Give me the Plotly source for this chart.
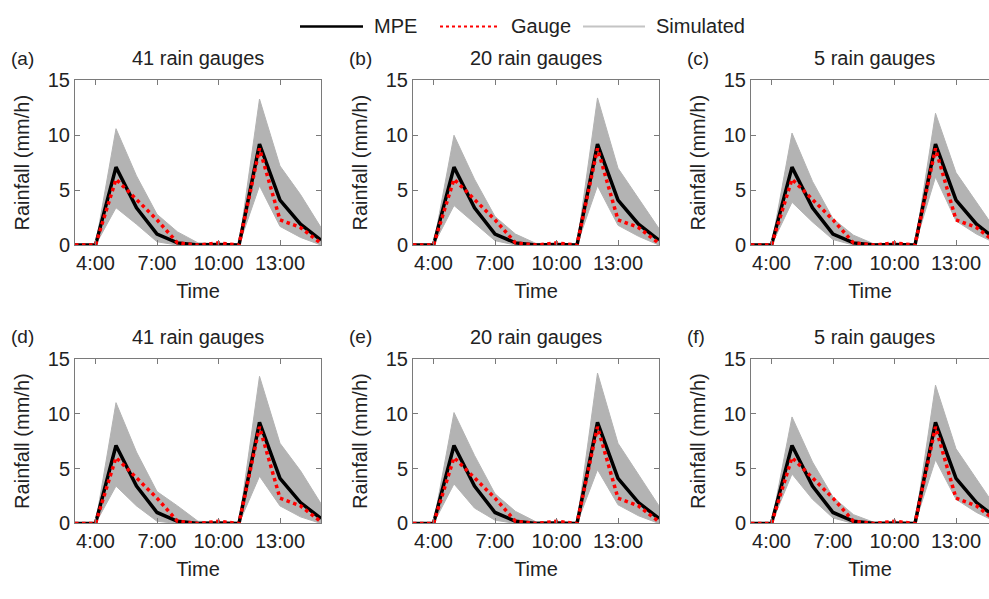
import plotly.graph_objects as go

# ---------------- data ----------------
hours = [3, 4, 5, 6, 7, 8, 9, 10, 11, 12, 13, 14, 15]
tick_vals = [4, 7, 10, 13]
tick_text = ["4:00", "7:00", "10:00", "13:00"]
y_ticks = [0, 5, 10, 15]

mpe = [0, 0, 7.1, 3.4, 1.0, 0.2, 0, 0.05, 0, 9.2, 4.1, 1.9, 0.45]
gauge = [0, 0, 6.0, 4.1, 2.3, 0.2, 0, 0.2, 0, 8.8, 2.3, 1.6, 0.15]

panel_labels = ["(a)", "(b)", "(c)", "(d)", "(e)", "(f)"]
panel_titles = ["41 rain gauges", "20 rain gauges", "5 rain gauges",
                "41 rain gauges", "20 rain gauges", "5 rain gauges"]

sim_upper_a = [0, 0, 10.6, 6.3, 2.8, 1.2, 0.2, 0.15, 0, 13.3, 7.2, 4.6, 1.6]
sim_lower_a = [0, 0, 3.4, 1.9, 0.3, 0, 0, 0, 0, 5.4, 1.7, 0.7, 0]
sim_upper_b = [0, 0, 10.0, 6.0, 2.6, 1.0, 0.15, 0.15, 0, 13.4, 7.0, 4.3, 1.5]
sim_lower_b = [0, 0, 3.6, 2.0, 0.4, 0, 0, 0, 0, 5.4, 1.8, 0.8, 0]
sim_upper_c = [0, 0, 10.2, 5.8, 2.4, 0.9, 0.1, 0.1, 0, 12.0, 6.6, 3.9, 1.2]
sim_lower_c = [0, 0, 3.9, 2.1, 0.5, 0, 0, 0, 0, 6.2, 2.2, 1.0, 0.1]
sim_upper_d = [0, 0, 11.0, 6.5, 2.9, 1.6, 0.2, 0.15, 0, 13.4, 7.3, 4.8, 1.8]
sim_lower_d = [0, 0, 3.4, 1.6, 0.2, 0, 0, 0, 0, 4.3, 1.6, 0.6, 0]
sim_upper_e = [0, 0, 10.1, 6.2, 2.7, 1.1, 0.15, 0.15, 0, 13.7, 7.3, 4.5, 1.6]
sim_lower_e = [0, 0, 3.6, 1.4, 0.3, 0, 0, 0, 0, 4.9, 1.7, 0.7, 0]
sim_upper_f = [0, 0, 9.7, 5.6, 2.4, 0.8, 0.1, 0.1, 0, 12.6, 6.8, 4.0, 1.3]
sim_lower_f = [0, 0, 4.5, 2.2, 0.5, 0, 0, 0, 0, 5.8, 2.2, 1.0, 0.1]

uppers = [sim_upper_a, sim_upper_b, sim_upper_c, sim_upper_d, sim_upper_e, sim_upper_f]
lowers = [sim_lower_a, sim_lower_b, sim_lower_c, sim_lower_d, sim_lower_e, sim_lower_f]

# ---------------- layout geometry ----------------
W, H = 989, 599
FONT = "Liberation Sans, Arial, sans-serif"
TXT = "#222222"
AX = "#7a7a7a"
BAND = "#b3b3b3"

col_px = [(75, 321), (413, 659), (751, 997)]   # last panel is clipped by the page edge
row_px = [(72, 243), (361, 532)]               # top, bottom in pixels

fig = go.Figure()

for i in range(6):
    r, c = divmod(i, 3)
    n = "" if i == 0 else str(i + 1)
    xa, ya = "x" + n, "y" + n
    x0p, x1p = col_px[c]
    y0p, y1p = row_px[r]
    x1_vis = min(x1p, W)
    xmax = 3 + 12 * (x1_vis - x0p) / (x1p - x0p)

    fig.add_trace(go.Scatter(x=hours, y=lowers[i], mode="lines",
                             line=dict(color=BAND, width=1), xaxis=xa, yaxis=ya,
                             showlegend=False, hoverinfo="skip"))
    fig.add_trace(go.Scatter(x=hours, y=uppers[i], mode="lines", fill="tonexty",
                             fillcolor=BAND, line=dict(color=BAND, width=1),
                             xaxis=xa, yaxis=ya, showlegend=False, name="Simulated"))
    fig.add_trace(go.Scatter(x=hours, y=mpe, mode="lines",
                             line=dict(color="black", width=3.5), xaxis=xa, yaxis=ya,
                             showlegend=False, name="MPE"))
    fig.add_trace(go.Scatter(x=hours, y=gauge, mode="lines",
                             line=dict(color="#ff0000", width=3.5, dash="dot"),
                             xaxis=xa, yaxis=ya, showlegend=False, name="Gauge"))

    xdom = [x0p / W, x1_vis / W]
    ydom = [(H - y1p) / H, (H - y0p) / H]
    common = dict(showline=True, linecolor=AX, linewidth=1, ticks="inside",
                  ticklen=5, tickcolor=AX, showgrid=False, zeroline=False,
                  tickfont=dict(family=FONT, size=20, color=TXT))
    fig.layout["xaxis" + n] = dict(
        domain=xdom, anchor=ya, range=[3, xmax], tickvals=tick_vals, ticktext=tick_text,
        mirror="ticks", title=dict(text="Time", font=dict(family=FONT, size=20, color=TXT),
                                   standoff=10), **common)
    fig.layout["yaxis" + n] = dict(
        domain=ydom, anchor=xa, range=[0, 15], tickvals=y_ticks,
        mirror="ticks" if c < 2 else False,
        title=dict(text="Rainfall (mm/h)", font=dict(family=FONT, size=20, color=TXT),
                   standoff=12), **common)

    # panel letter and title
    ty = (H - (y0p - 23)) / H
    fig.add_annotation(x=(x0p - 66) / W, y=ty, xref="paper", yref="paper",
                       text=panel_labels[i], showarrow=False, xanchor="left",
                       yanchor="middle", font=dict(family=FONT, size=19, color=TXT))
    fig.add_annotation(x=(x0p + x1p) / 2 / W, y=ty, xref="paper", yref="paper",
                       text=panel_titles[i], showarrow=False, xanchor="center",
                       yanchor="middle", font=dict(family=FONT, size=20, color=TXT))

# ---------------- legend (drawn at top) ----------------
leg_y = (H - 16) / H
leg_items = [("MPE", "black", "solid", 2.5, 300, 363),
             ("Gauge", "#ff0000", "dot", 2, 440, 500),
             ("Simulated", "#c4c4c4", "solid", 2, 583, 645)]
for name, col, dash, wid, lx0, lx1 in leg_items:
    fig.add_shape(type="line", xref="paper", yref="paper", x0=lx0 / W, x1=lx1 / W,
                  y0=leg_y, y1=leg_y, line=dict(color=col, width=wid, dash=dash))
    fig.add_annotation(x=(lx1 + 9) / W, y=leg_y, xref="paper", yref="paper", text=name,
                       showarrow=False, xanchor="left", yanchor="middle",
                       font=dict(family=FONT, size=20, color=TXT))

fig.update_layout(width=W, height=H, margin=dict(l=0, r=0, t=0, b=0),
                  paper_bgcolor="white", plot_bgcolor="white", showlegend=False,
                  font=dict(family=FONT, size=20, color=TXT))

fig.write_html("out.html")
